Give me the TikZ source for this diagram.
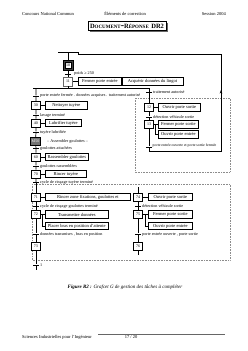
\documentclass[tikz,border=0pt]{standalone}
\usepackage{fontspec}
\setmainfont{Liberation Serif}
\usetikzlibrary{arrows.meta,calc}
\begin{document}
\begin{tikzpicture}[x=1pt,y=-1pt,
  every node/.style={font=\fontsize{4.5}{5}\selectfont, inner sep=0pt},
  stepbox/.style={draw, line width=0.7pt, minimum width=8.5pt, minimum height=8pt, fill=white, font=\fontsize{4}{4.5}\selectfont},
  actbox/.style={draw, line width=0.7pt, anchor=west, minimum height=7.5pt, inner xsep=1pt, fill=white},
  trans/.style={fill=black, minimum width=6pt, minimum height=0.9pt},
  rec/.style={anchor=west, font=\fontsize{4.2}{5}\selectfont},
  link/.style={line width=0.7pt},
  dotbox/.style={black!45, densely dotted, line width=0.6pt},
  pbar/.style={double, double distance=1.2pt, line width=0.6pt}
]
\useasboundingbox (0,0) rectangle (248,351);

% header
\node[anchor=west] (h1) at (22,14) {Concours National Commun};
\node (h2) at (125,14) {Éléments de correction};
\node[anchor=east] (h3) at (226,14) {Session 2004};
\fill[black!60] (89.5,22.5) rectangle (167.5,32);
\node[draw, line width=0.6pt, fill=white, minimum width=78pt, minimum height=9.5pt, font=\bfseries] (title) at (127,26)
  {{\fontsize{6.5}{7}\selectfont D}{\fontsize{5}{6}\selectfont OCUMENT}-{\fontsize{6.5}{7}\selectfont R}{\fontsize{5}{6}\selectfont ÉPONSE} {\fontsize{6.5}{7}\selectfont DR2}};

% dotted boxes
\draw[dotbox] (135,98) rectangle (230,172);
\draw[dotbox] (32,184) rectangle (230,260);

% step 10 (initial) and top
\node[draw, line width=0.6pt, fill=black!75, minimum width=10pt, minimum height=10pt] (s10) at (68,65) {};
\node[draw, line width=0.4pt, fill=white, minimum width=6.5pt, minimum height=6.5pt, font=\fontsize{4}{4.5}\selectfont] (s10i) at (68,65) {10};
\coordinate (top) at (68,52);
\coordinate (barL) at (58,52);
\coordinate (barR) at (78,52);
\draw[link] (barL) -- (barR);
\draw[link] (top) -- (s10);

\node[trans] (t10) at (68,74.5) {};
\node[rec] (r10) at (74,73) {poids ≥ 250};
\node[stepbox, line width=0.9pt, draw=black!60, minimum width=9.5pt, minimum height=9pt] (s11) at (68,81.5) {11};
\draw[link] (s10) -- (t10) -- (s11);
\node[actbox, minimum width=43pt] (a11a) at (78,81.5) {Fermer porte entrée};
\node[actbox, minimum width=61pt] (a11b) at (a11a.east) {Acquérir données du lingot};
\draw[link] (s11) -- (a11a);

% divergence
\coordinate (d11) at (68,88);
\coordinate (dL) at (33,88);
\coordinate (dA) at (36,88);
\coordinate (dR) at (149,88);
\draw[link] (s11) -- (d11);
\draw[link] (dL) -- (dR);

% left branch
\node[trans] (tA) at (36,96) {};
\node[rec] (rA) at (40,95.5) {porte entrée fermée . données acquises . traitement autorisé};
\node[stepbox] (s30) at (36,105.5) {30};
\node[actbox, minimum width=42pt] (a30) at (45,105.5) {Nettoyer tuyère};
\node[trans] (t30) at (36,115) {};
\node[rec] (r30) at (40,115) {lavage terminé};
\node[stepbox] (s40) at (36,123) {40};
\node[actbox, minimum width=36pt] (a40) at (45,123) {Lubrifier tuyère};
\node[trans] (t40) at (36,132) {};
\node[rec] (r40) at (40,132) {tuyère lubrifiée};
\node[stepbox, fill=black!55, minimum width=10pt, text=white] (m50) at (35.5,141.5) {M50};
\node[rec] (lm50) at (47,141.5) {– Assembler goulottes –};
\node[trans] (t50) at (36,148.5) {};
\node[rec] (r50) at (40,148.5) {goulottes attachées};
\node[stepbox] (s60) at (36,157) {60};
\node[actbox, minimum width=43pt] (a60) at (45,157) {Rassembler goulottes};
\node[trans] (t60) at (36,166) {};
\node[rec] (r60) at (40,166) {goulottes rassemblées};
\node[stepbox] (s70) at (36,174) {70};
\node[actbox, minimum width=41pt] (a70) at (45,174) {Rincer tuyère};
\node[trans] (t70) at (36,182.5) {};
\node[rec] (r70) at (40,182.5) {cycle de rinçage tuyère terminé};
\draw[link] (dA) -- (tA) -- (s30) -- (t30) -- (s40) -- (t40) -- (m50) -- (t50) -- (s60) -- (t60) -- (s70) -- (t70);
\draw[link] (s30) -- (a30);
\draw[link] (s40) -- (a40);
\draw[link] (s60) -- (a60);
\draw[link] (s70) -- (a70);

% right branch (upper)
\node[trans] (tB) at (149,92.5) {};
\node[rec] (rB) at (153,92) {traitement autorisé};
\node[stepbox] (s12) at (149,107.5) {12};
\node[actbox, minimum width=42pt] (a12) at (158,107.5) {Ouvrir porte sortie};
\node[trans] (t12) at (149,117) {};
\node[rec] (r12) at (153,117) {détection véhicule sortie};
\node[stepbox] (s13) at (149,124.5) {13};
\node[actbox, minimum width=40pt] (a13a) at (158,124.5) {Fermer porte sortie};
\node[actbox, minimum width=40pt] (a13b) at (158,134.5) {Ouvrir porte entrée};
\coordinate (b13) at (155.5,124.5);
\node[trans] (t13) at (149,147) {};
\node[rec, font=\fontsize{3.8}{4.5}\selectfont] (r13) at (152.5,146) {porte entrée ouverte et porte sortie fermée};
\draw[link] (dR) -- (tB) -- (s12) -- (t12) -- (s13) -- (t13);
\draw[link] (s12) -- (a12);
\draw[link] (s13) -- (a13a);
\draw[link] (b13) |- (a13b);

% return line to step 10
\coordinate (r0) at (149,151);
\coordinate (r1) at (221,151);
\coordinate (rm) at (221,90);
\coordinate (r2) at (221,54);
\coordinate (r3) at (78,54);
\draw[link] (t13) -- (r0) -- (r1) -- (rm);
\draw[link, -{Stealth[length=3.5pt,width=2.6pt]}] (r1) -- (rm);
\draw[link] (rm) -- (r2) -- (r3) -- (barR);

% parallel divergence
\coordinate (pL) at (33,187);
\coordinate (pR) at (187,187);
\coordinate (pA) at (36,187);
\coordinate (pB) at (138,187);
\draw[pbar] (pL) -- (pR);
\draw[link] (t70) -- (pA);

% lower left
\node[stepbox] (s71) at (36,197) {71};
\node[actbox, minimum width=85pt] (a71) at (45,197) {Rincer zone fixations, goulottes et};
\node[trans] (t71) at (36,206.5) {};
\node[rec] (r71) at (40,206.5) {cycle de rinçage goulottes terminé};
\node[stepbox] (s72) at (36,214.5) {72};
\node[actbox, minimum width=63pt] (a72a) at (45,214.5) {Transmettre données};
\node[actbox, minimum width=63pt] (a72b) at (45,226) {Placer bras en position d'attente};
\coordinate (b72) at (42.5,214.5);
\node[trans] (t72) at (36,234) {};
\node[rec] (r72) at (40,234) {données transmises , bras en position};
\node[stepbox] (s73) at (36,246) {73};
\draw[link] (pA) -- (s71) -- (t71) -- (s72) -- (t72) -- (s73);
\draw[link] (s71) -- (a71);
\draw[link] (s72) -- (a72a);
\draw[link] (b72) |- (a72b);

% lower right
\node[stepbox] (s74) at (138,197) {74};
\node[actbox, minimum width=44pt] (a74) at (148,197) {Ouvrir porte sortie};
\node[trans] (t74) at (138,206.5) {};
\node[rec] (r74) at (142,206.5) {détection véhicule sortie};
\node[stepbox] (s75) at (138,214.5) {75};
\node[actbox, minimum width=44pt] (a75a) at (148,214.5) {Fermer porte sortie};
\node[actbox, minimum width=44pt] (a75b) at (148,226) {Ouvrir porte entrée};
\coordinate (b75) at (145,214.5);
\node[trans] (t75) at (138,234) {};
\node[rec] (r75) at (142,234) {porte entrée ouverte , porte sortie};
\node[stepbox] (s76) at (138,246) {76};
\draw[link] (pB) -- (s74) -- (t74) -- (s75) -- (t75) -- (s76);
\draw[link] (s74) -- (a74);
\draw[link] (s75) -- (a75a);
\draw[link] (b75) |- (a75b);

% parallel convergence
\coordinate (qL) at (33,255);
\coordinate (qR) at (190,255);
\coordinate (qA) at (36,255);
\coordinate (qB) at (138,255);
\draw[pbar] (qL) -- (qR);
\draw[link] (s73) -- (qA);
\draw[link] (s76) -- (qB);
\node[trans] (tend) at (36,265) {};
\node[rec] (rend) at (40,265) {1};
\coordinate (endc) at (36,270);
\draw[link] (qA) -- (tend) -- (endc);

% caption
\node[font=\fontsize{5}{6}\selectfont\itshape] (cap) at (125,287) {\textbf{Figure R2 :} Grafcet G de gestion des tâches à compléter};

% footer
\node[anchor=west] (f1) at (22,337) {Sciences Industrielles pour l'Ingénieur};
\node (f2) at (131,337) {17 / 20};
\coordinate (fl1) at (98,334.5);
\coordinate (fl2) at (225,334.5);
\draw[black!60, line width=0.4pt] (fl1) -- (fl2);
\end{tikzpicture}
\end{document}
